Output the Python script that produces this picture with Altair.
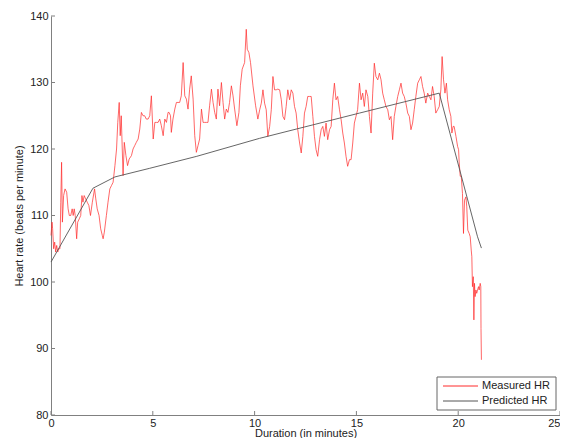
import altair as alt
import pandas as pd

# ---- data ----
measured_t = [
    0.00, 0.05, 0.08, 0.13, 0.18, 0.23, 0.28, 0.33, 0.38, 0.44, 0.48, 0.52, 0.56, 0.62, 0.69, 0.77,
    0.84, 0.90, 0.97, 1.04, 1.09, 1.14, 1.19, 1.26, 1.31, 1.39, 1.46, 1.52, 1.57, 1.63, 1.70, 1.78,
    1.86, 1.94, 2.03, 2.14, 2.20, 2.27, 2.36, 2.44, 2.52, 2.56, 2.62, 2.72, 2.80, 2.89, 2.97, 3.05,
    3.14, 3.22, 3.28, 3.35, 3.40, 3.45, 3.50, 3.54, 3.60, 3.68, 3.76, 3.84, 3.95, 4.03, 4.11, 4.19,
    4.28, 4.36, 4.44, 4.52, 4.60, 4.68, 4.77, 4.85, 4.93, 5.02,
    5.10, 5.18, 5.26, 5.34, 5.42, 5.51, 5.59, 5.67, 5.75, 5.80, 5.87, 5.91, 5.99, 6.08, 6.16, 6.24,
    6.32, 6.40, 6.49, 6.57, 6.65, 6.73, 6.81, 6.89, 6.98, 7.06, 7.14, 7.22, 7.30, 7.39, 7.47, 7.55,
    7.63, 7.71, 7.79, 7.88, 7.96, 8.04, 8.12, 8.20, 8.28, 8.37, 8.45, 8.53, 8.61, 8.69, 8.77, 8.86,
    8.94, 9.02, 9.13, 9.23, 9.30, 9.39, 9.51, 9.59, 9.64, 9.72, 9.80, 9.92, 10.05, 10.16,
    10.25, 10.33, 10.41, 10.49, 10.57, 10.65, 10.74, 10.82, 10.90, 10.98, 11.06, 11.14, 11.23, 11.31,
    11.39, 11.47, 11.55, 11.63, 11.72, 11.80, 11.88, 11.96, 12.04, 12.12, 12.21, 12.29, 12.37, 12.45,
    12.53, 12.61, 12.70, 12.78, 12.86, 12.94, 13.02, 13.10, 13.19, 13.27, 13.35, 13.43, 13.51, 13.59,
    13.68, 13.76, 13.84, 13.92, 14.00, 14.08, 14.17, 14.25, 14.33, 14.41, 14.49, 14.57,
    14.66, 14.74, 14.82, 14.90, 14.98, 15.06, 15.15, 15.23, 15.31, 15.39, 15.47, 15.56, 15.64, 15.72,
    15.80, 15.88, 15.96, 16.05, 16.13, 16.21, 16.29, 16.37, 16.45, 16.54, 16.62, 16.70, 16.78, 16.86,
    16.94, 17.03, 17.11, 17.19, 17.27, 17.35, 17.43, 17.52, 17.60, 17.68, 17.76, 17.84, 17.92, 18.01,
    18.09, 18.17, 18.25, 18.33, 18.41, 18.50, 18.58, 18.66, 18.74, 18.82, 18.90, 18.99, 19.07, 19.15,
    19.21, 19.28, 19.35, 19.42, 19.48, 19.56, 19.64, 19.69, 19.75, 19.80, 19.89, 19.97,
    20.02, 20.05, 20.10, 20.15, 20.21, 20.26, 20.31, 20.38, 20.42, 20.47, 20.54, 20.59, 20.64, 20.67,
    20.70, 20.74, 20.77, 20.80, 20.83, 20.87, 20.91, 20.95, 21.00, 21.03, 21.08, 21.11, 21.12, 21.14,
]
measured_hr = [
    107, 109, 108, 105, 106, 104.5, 105.5, 104.5, 105, 105, 112, 118, 109, 113, 114, 113.5,
    111, 110, 110, 111, 110, 111, 110, 106.5, 109, 109.5, 110, 113, 112, 113, 112.5, 112,
    111.5, 110, 112, 114, 112.5, 111, 110, 108, 107, 106.5, 107.5, 110, 112, 114, 114.5, 115,
    117.5, 120, 124, 127, 122, 125, 120, 116, 121, 119, 117.5, 118.5, 119, 120, 120.5, 121,
    121.5, 123, 125.5, 125, 125, 124.5, 124.5, 125, 128, 121.5,
    124, 124, 124, 124.5, 123.5, 122, 124.5, 124, 125.5, 125.5, 125, 122.5, 124.5, 126, 127, 127,
    127, 128, 133, 128, 127.5, 126, 129, 131, 127.5, 122, 119.5, 120.5, 121.5, 126, 124, 124,
    124, 124, 126.5, 129, 127, 125.5, 124.5, 129, 126.5, 130, 127, 124.5, 126, 125.5, 127, 129.5,
    128, 126, 123.5, 125.5, 129.5, 132, 133, 138, 135, 134.5, 133, 129.5, 126.5, 124.5,
    125.9, 126.9, 128.9, 126.9, 125.9, 121.9, 123.4, 125.9, 130.9, 128.9, 128.9, 129, 128.9, 127.4,
    124.9, 124.4, 126.4, 128.9, 127.4, 128.9, 128.4, 126.4, 125.4, 122.9, 120.9, 119.4, 121.9, 125.4,
    126.4, 127.9, 127.9, 127.9, 124.9, 121.9, 119.9, 118.9, 121.4, 122.9, 123.4, 121.9, 123.9, 121.4,
    122.9, 123.4, 127.4, 129.9, 127.4, 127.9, 125.9, 124.4, 122.4, 120.9, 118.9, 117.4,
    118.4, 118.4, 120.9, 123.9, 124.9, 125.9, 129.9, 127.4, 128.4, 126.4, 128.9, 127.9, 124.9, 122.4,
    128.4, 132.9, 130.9, 130.4, 131.4, 130.4, 128.4, 127.4, 126.4, 125.9, 124.4, 124.9, 121.4, 124.9,
    126.4, 127.9, 128.9, 129.9, 128.4, 127.9, 126.9, 125.4, 124.9, 122.9, 123.9, 125.9, 127.9, 129.9,
    130.4, 130.9, 129.4, 128.4, 126.9, 128.4, 127.9, 127.4, 129.4, 127.9, 125.4, 125.9, 126.4, 129,
    133.9, 130.4, 128.4, 129.9, 127.4, 125.9, 124.9, 122.4, 123.4, 123.4, 121.9, 120.4,
    119.9, 117.9, 115.9, 115.9, 113.3, 107.3, 112.3, 112.8, 111.3, 107.8, 107.3, 106.8, 104.8, 103.8,
    99.3, 100.8, 94.3, 99.8, 97.8, 98.8, 98.3, 98.8, 99.3, 98.8, 99.8, 99.3, 93, 88.3,
]
predicted_t = [0, 2.06, 3.14, 4.85, 7.16, 10.24, 15.15, 19.07, 20.95, 21.14]
predicted_hr = [103, 114.1, 115.8, 117.1, 118.9, 121.6, 125.4, 128.4, 106.8, 105.1]

series_names = ["Measured HR", "Predicted HR"]
series_colors = ["#ff2b2b", "#555555"]
x_ticks = [0, 5, 10, 15, 20, 25]
y_ticks = [80, 90, 100, 110, 120, 130, 140]

W, H = 509, 399
FONT = "Liberation Sans"
AXIS_GREY = "#808080"
TEXT = "#222222"

df_m = pd.DataFrame({"t": measured_t, "hr": measured_hr, "series": series_names[0]})
df_p = pd.DataFrame({"t": predicted_t, "hr": predicted_hr, "series": series_names[1]})

xs = alt.Scale(domain=[0, 25], nice=False, zero=False)
ys = alt.Scale(domain=[80, 140], nice=False, zero=False)

x_axis = alt.Axis(
    values=x_ticks, format="d", title="Duration (in minutes)", grid=False, ticks=False,
    labelPadding=2, labelAlign=alt.condition("datum.value == 25", alt.value("right"), alt.value("center")),
    titleY=21, titleBaseline="alphabetic",
)
y_axis = alt.Axis(
    values=y_ticks, format="d", title="Heart rate (beats per minute)", grid=False, ticks=False,
    labelPadding=3, titleAngle=270, titleX=-27, titleY=H / 2, titleBaseline="bottom", titleAlign="center",
)

color = alt.Color(
    "series:N",
    scale=alt.Scale(domain=series_names, range=series_colors),
    legend=None,
)

measured = alt.Chart(df_m).mark_line(strokeWidth=0.8, opacity=0.9).encode(
    x=alt.X("t:Q", scale=xs, axis=x_axis),
    y=alt.Y("hr:Q", scale=ys, axis=y_axis),
    color=color,
)
predicted = alt.Chart(df_p).mark_line(strokeWidth=0.9).encode(
    x=alt.X("t:Q", scale=xs, axis=x_axis),
    y=alt.Y("hr:Q", scale=ys, axis=y_axis),
    color=color,
)

# inward tick marks (Matlab style)
ytick_marks = alt.Chart(pd.DataFrame({"t": [0] * len(y_ticks), "hr": y_ticks})).mark_rule(
    color=AXIS_GREY, strokeWidth=1
).encode(
    y=alt.Y("hr:Q", scale=ys, axis=y_axis), x=alt.value(0), x2=alt.value(4)
)
xtick_marks = alt.Chart(pd.DataFrame({"t": x_ticks, "hr": [80] * len(x_ticks)})).mark_rule(
    color=AXIS_GREY, strokeWidth=1
).encode(
    x=alt.X("t:Q", scale=xs, axis=x_axis), y=alt.value(H), y2=alt.value(H - 4)
)

# legend box drawn by hand
LX0, LX1, LY0, LY1 = 386, 505, 361, 394
legend_df = pd.DataFrame({
    "series": series_names,
    "row_y": [370, 385],
})
legend_box = alt.Chart(pd.DataFrame({"a": [0]})).mark_rect(
    fill="white", stroke="#666666", strokeWidth=1
).encode(x=alt.value(LX0), x2=alt.value(LX1), y=alt.value(LY0), y2=alt.value(LY1))
legend_lines = alt.Chart(legend_df).mark_rule(strokeWidth=1).encode(
    x=alt.value(392), x2=alt.value(427), y=alt.Y("row_y:Q", scale=None), color=color
)
legend_text = alt.Chart(legend_df).mark_text(
    align="left", baseline="middle", font=FONT, fontSize=11, color=TEXT
).encode(x=alt.value(431), y=alt.Y("row_y:Q", scale=None), text="series:N")

chart = (
    alt.layer(measured, predicted, ytick_marks, xtick_marks, legend_box, legend_lines, legend_text)
    .properties(
        width=W, height=H,
        autosize=alt.AutoSizeParams(type="none"),
        padding={"left": 43, "top": 8, "right": 0, "bottom": 23},
        background="white",
    )
    .configure_view(stroke=None)
    .configure_axis(
        labelFont=FONT, titleFont=FONT, labelFontSize=11, titleFontSize=11,
        labelColor=TEXT, titleColor=TEXT, titleFontWeight="normal",
        domainColor=AXIS_GREY, domainWidth=1,
    )
)

chart.save("out.html", embed_options={"renderer": "svg", "actions": False})
